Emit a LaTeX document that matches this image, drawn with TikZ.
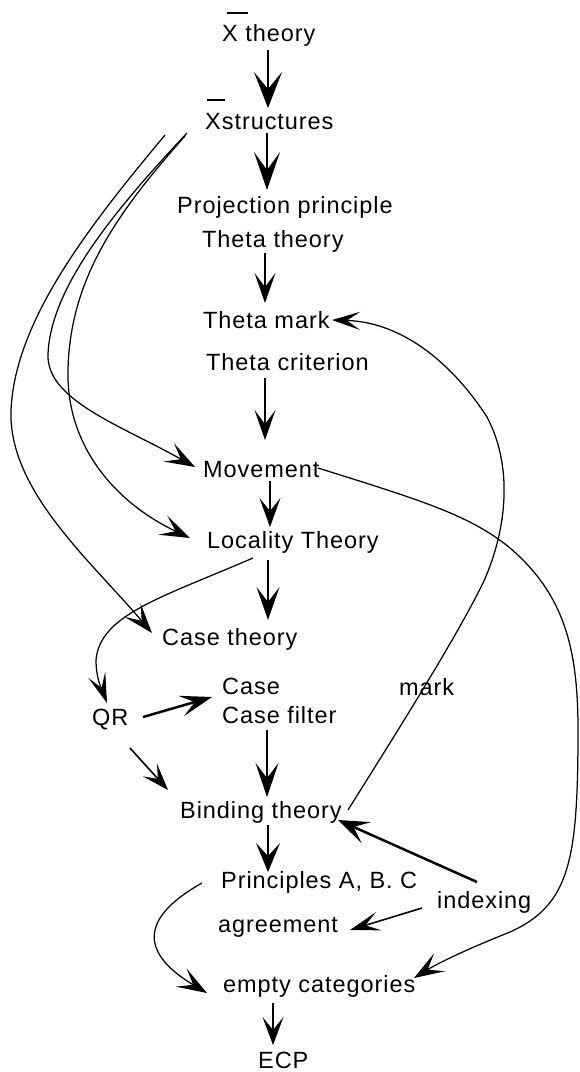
\documentclass[tikz,border=0pt]{standalone}
\usepackage{fontspec}
\usetikzlibrary{arrows.meta}
\newfontfamily\dgfont{Liberation Sans}[LetterSpace=4]
\tikzset{
  lbl/.style={anchor=base west, inner sep=0pt, font={\dgfont\fontsize{23.5}{28}\selectfont}},
  con/.style={line width=1.25pt},
  thick con/.style={line width=2.5pt},
  hd/.style n args={3}{-{Stealth[length=#1pt,width=#2pt,inset=#3pt]}},
  xbar/.style={line width=2.3pt},
}
\begin{document}
\begin{tikzpicture}[x=1pt,y=1pt]
\useasboundingbox (0,0) rectangle (580,-1072);
\fill[white] (0,0) rectangle (580,-1072);

% nodes
\node[lbl] (xth)   at (222,-41)  {X theory};
\node[lbl] (xst)   at (205,-129) {X\kern1pt structures};
\node[lbl] (proj)  at (177,-213) {Projection principle};
\node[lbl] (thth)  at (202,-247) {Theta theory};
\node[lbl] (thm)   at (203,-328) {Theta mark};
\node[lbl] (thc)   at (206,-370) {Theta criterion};
\node[lbl] (mov)   at (203,-477) {Movement};
\node[lbl] (loc)   at (207,-548) {Locality Theory};
\node[lbl] (cth)   at (162,-645) {Case theory};
\node[lbl] (case)  at (222,-694) {Case};
\node[lbl] (casef) at (222,-723) {Case filter};
\node[lbl] (qr)    at (92,-725)  {QR};
\node[lbl] (mark)  at (399,-695) {mark};
\node[lbl] (bind)  at (180,-818) {Binding theory};
\node[lbl] (princ) at (221,-888) {Principles A, B. C};
\node[lbl] (idx)   at (437,-908) {indexing};
\node[lbl] (agr)   at (218,-932) {agreement};
\node[lbl] (empty) at (223,-992) {empty categories};
\node[lbl] (ecp)   at (258,-1068) {ECP};

% bars over X
\draw[xbar] ([shift={(5,28)}]xth.base west) -- ++(21,0);
\draw[xbar] ([shift={(2,29)}]xst.base west) -- ++(18,0);

% vertical arrows
\draw[con,hd={36}{28}{17}] ([shift={(46,-9)}]xth.base west) -- ([shift={(63,21)}]xst.base west);
\draw[con,hd={38}{26}{18}] ([shift={(62,-4)}]xst.base west) -- ([shift={(90,23)}]proj.base west);
\draw[con,hd={30}{21}{14}] ([shift={(63,-6)}]thth.base west) -- ([shift={(62,25)}]thm.base west);
\draw[con,hd={30}{21}{14}] ([shift={(59,-8)}]thc.base west) -- ([shift={(62,37)}]mov.base west);
\draw[con,hd={29}{21}{13}] ([shift={(67,-4)}]mov.base west) -- ([shift={(63,21)}]loc.base west);
\draw[con,hd={33}{23}{15}] ([shift={(61,-12)}]loc.base west) -- ([shift={(106,25)}]cth.base west);
\draw[con,hd={34}{23}{15}] ([shift={(45,-7)}]casef.base west) -- ([shift={(87,21)}]bind.base west);
\draw[con,hd={29}{24}{13}] ([shift={(88,-7)}]bind.base west) -- ([shift={(47,16)}]princ.base west);
\draw[con,hd={28}{21}{13}] ([shift={(50,-11)}]empty.base west) -- ([shift={(15,23)}]ecp.base west);

% other straight arrows
\draw[thick con,hd={32}{21}{14}] ([shift={(51,8)}]qr.base west) -- ([shift={(-10,-3)}]case.base west);
\draw[con,line width=1.6pt,hd={27}{19}{12}] ([shift={(38,-23)}]qr.base west) -- ([shift={(-12,28)}]bind.base west);
\draw[thick con,hd={31}{23}{14}] ([shift={(40,26)}]idx.base west) -- ([shift={(158,-2)}]bind.base west);
\draw[con,line width=1.6pt,hd={30}{19}{14}] ([shift={(-15,0)}]idx.base west) -- ([shift={(132,2)}]agr.base west);

% curved arrows
\draw[con,hd={30}{21}{14}] ([shift={(-19,5)}]princ.base west) .. controls (145,-915) and (135,-950) .. ([shift={(-16,-1)}]empty.base west);
\draw[con,hd={28}{18}{13}] ([shift={(168,8)}]bind.base west) .. controls (395,-735) and (455,-640) .. (483,-583) .. controls (505,-535) and (515,-470) .. (487,-417) .. controls (450,-360) and (400,-322) .. ([shift={(129,8)}]thm.base west);
\draw[con,hd={30}{21}{14}] ([shift={(115,9)}]mov.base west) .. controls (420,-500) and (470,-515) .. (510,-548) .. controls (565,-595) and (578,-650) .. (578,-730) .. controls (578,-860) and (570,-905) .. (510,-932) .. controls (470,-948) and (440,-962) .. ([shift={(191,14)}]empty.base west);
\draw[con,hd={30}{18}{14}] ([shift={(46,-10)}]loc.base west) .. controls (160,-598) and (100,-615) .. (96,-660) .. controls (96,-680) and (103,-692) .. ([shift={(15,22)}]qr.base west);
\draw[con,hd={30}{21}{14}] ([shift={(-40,-6)}]xst.base west) .. controls (90,-225) and (15,-320) .. (11,-410) .. controls (8,-490) and (90,-560) .. ([shift={(-10,12)}]cth.base west);
\draw[con,hd={30}{21}{14}] ([shift={(-18,-4)}]xst.base west) .. controls (110,-215) and (50,-290) .. (48,-355) .. controls (47,-400) and (120,-425) .. ([shift={(-8,10)}]mov.base west);
\draw[con,hd={30}{21}{14}] ([shift={(-20,-7)}]xst.base west) .. controls (115,-215) and (70,-280) .. (68,-370) .. controls (66,-450) and (120,-505) .. ([shift={(-17,10)}]loc.base west);
\end{tikzpicture}
\end{document}
